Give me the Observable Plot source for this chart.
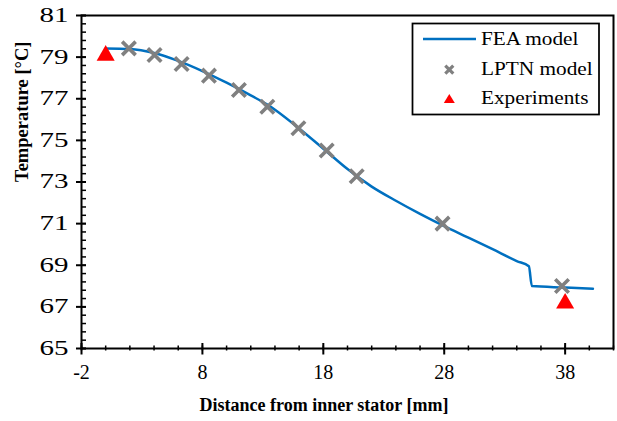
<!DOCTYPE html>
<html><head><meta charset="utf-8">
<script src="https://cdn.jsdelivr.net/npm/d3@7"></script>
<script src="https://cdn.jsdelivr.net/npm/@observablehq/plot@0.6"></script>
<style>
html,body{margin:0;padding:0;background:#fff;}
#wrap{position:relative;width:617px;height:421px;font-family:"Liberation Serif","Times New Roman",serif;}
#legend{position:absolute;left:0;top:0;}
</style></head><body><div id="wrap"></div>
<script>
// FEA model (continuous line)
const feaX = [0, 2, 4, 6, 8, 10, 12, 13.5, 14, 16, 18, 20, 22, 24, 26, 28, 30, 32, 34, 35, 35.25, 38, 40.3];
const feaY = [79.42, 79.39, 79.2, 78.82, 78.33, 77.77, 77.16, 76.67, 76.47, 75.57, 74.6, 73.62, 72.78, 72.1, 71.47, 70.88, 70.33, 69.77, 69.2, 68.95, 68.0, 67.93, 67.87];
// LPTN model (markers)
const lptnX = [1.92, 4.04, 6.28, 8.54, 11.02, 13.37, 15.94, 18.28, 20.76, 27.86, 37.74];
const lptnY = [79.42, 79.1, 78.67, 78.11, 77.42, 76.62, 75.58, 74.51, 73.28, 71.0, 68.0];
// Experiments
const expX = [0, 38];
const expY = [79.08, 67.17];

const xTicks = [-2, 8, 18, 28, 38];
const xMinor = d3.range(-2, 42.01, 2);
const yTicks = [65, 67, 69, 71, 73, 75, 77, 79, 81];
const yMinor = d3.range(0, 41).map(i => 65 + i * 0.4);

const seriesNames = ["FEA model", "LPTN model", "Experiments"];
const xTitle = "Distance from inner stator [mm]";
const yTitle = "Temperature [°C]";

const fea = feaX.map((x, i) => ({x, y: feaY[i]}));
const lptn = lptnX.map((x, i) => ({x, y: lptnY[i]}));
const exp = expX.map((x, i) => ({x, y: expY[i]}));

const chart = Plot.plot({
  width: 617, height: 421,
  marginLeft: 81, marginRight: 4, marginTop: 15, marginBottom: 73,
  style: {fontFamily: "'Liberation Serif', 'Times New Roman', serif", fontSize: "20px", color: "#000", background: "#fff", overflow: "visible"},
  x: {domain: [-2, 42]},
  y: {domain: [65, 81]},
  marks: [
    Plot.line(fea, {x: "x", y: "y", stroke: "#0070C0", strokeWidth: 2.5, curve: "monotone-x"}),
    Plot.dot(lptn, {x: "x", y: "y", symbol: "times", r: 6.2, stroke: "#808080", strokeWidth: 3.6}),
    Plot.dot(exp, {x: "x", y: "y", symbol: "triangle", r: 6.7, fill: "#FF0000", stroke: "none"}),
    Plot.axisX(xMinor, {tickSize: 5, dy: -2.5, text: null, strokeWidth: 1.5, label: null}),
    Plot.axisX(xTicks, {tickSize: 11.5, dy: -5, text: null, strokeWidth: 2, label: null}),
    Plot.axisX(xTicks, {tickSize: 0, tickPadding: 16, tickFormat: d => `${d}`, fontSize: 20, label: null}),
    Plot.axisY(yMinor, {tickSize: 5, dx: 5, text: null, strokeWidth: 1.5, label: null}),
    Plot.axisY(yTicks, {tickSize: 10, dx: 5, text: null, strokeWidth: 2, label: null}),
    Plot.axisY(yTicks, {tickSize: 0, tickPadding: 13, tickFormat: d => `${d}`, fontSize: 20, label: null}),
    Plot.frame({stroke: "#000", strokeWidth: 2}),
    Plot.text([xTitle], {text: d => d, frameAnchor: "bottom", dx: -23.5, dy: 62, fontWeight: "bold", fontSize: 18}),
    Plot.text([yTitle], {text: d => d, frameAnchor: "left", rotate: -90, dx: -59.5, fontWeight: "bold", fontSize: 18.5})
  ]
});
const wrap = document.getElementById("wrap");
wrap.appendChild(chart);

// widen the y tick labels horizontally, as in the reference
d3.select(chart).selectAll('g[aria-label="y-axis tick label"] text').each(function() {
  const t = this.getAttribute("transform");
  if (t) {
    this.setAttribute("transform", t + " scale(1.45,1)");
  } else {
    const x = +this.getAttribute("x") || 0, y = +this.getAttribute("y") || 0;
    this.setAttribute("x", 0); this.setAttribute("y", 0);
    this.setAttribute("transform", `translate(${x},${y}) scale(1.45,1)`);
  }
});

// Legend overlay
const lg = d3.select(wrap).append("svg").attr("id", "legend")
  .attr("width", 617).attr("height", 421)
  .style("font-family", "'Liberation Serif', 'Times New Roman', serif");
lg.append("rect").attr("x", 412.5).attr("y", 23.5).attr("width", 186.5).attr("height", 91)
  .attr("fill", "#fff").attr("stroke", "#000").attr("stroke-width", 1.75);
lg.append("line").attr("x1", 423).attr("x2", 476).attr("y1", 39).attr("y2", 39)
  .attr("stroke", "#0070C0").attr("stroke-width", 2.5);
lg.append("path").attr("transform", "translate(449.3,69.7)")
  .attr("d", "M-4,-4L4,4M4,-4L-4,4").attr("stroke", "#808080").attr("stroke-width", 3.2).attr("fill", "none");
lg.append("path").attr("transform", "translate(449.3,99)")
  .attr("d", "M0,-5L5.5,4L-5.5,4Z").attr("fill", "#FF0000");
const baselines = [44.7, 75.3, 104];
seriesNames.forEach((n, i) => {
  lg.append("text").attr("transform", `translate(481,${baselines[i]}) scale(1.12,1)`)
    .attr("font-size", 19).attr("fill", "#000").text(n);
});
</script>
</body></html>
